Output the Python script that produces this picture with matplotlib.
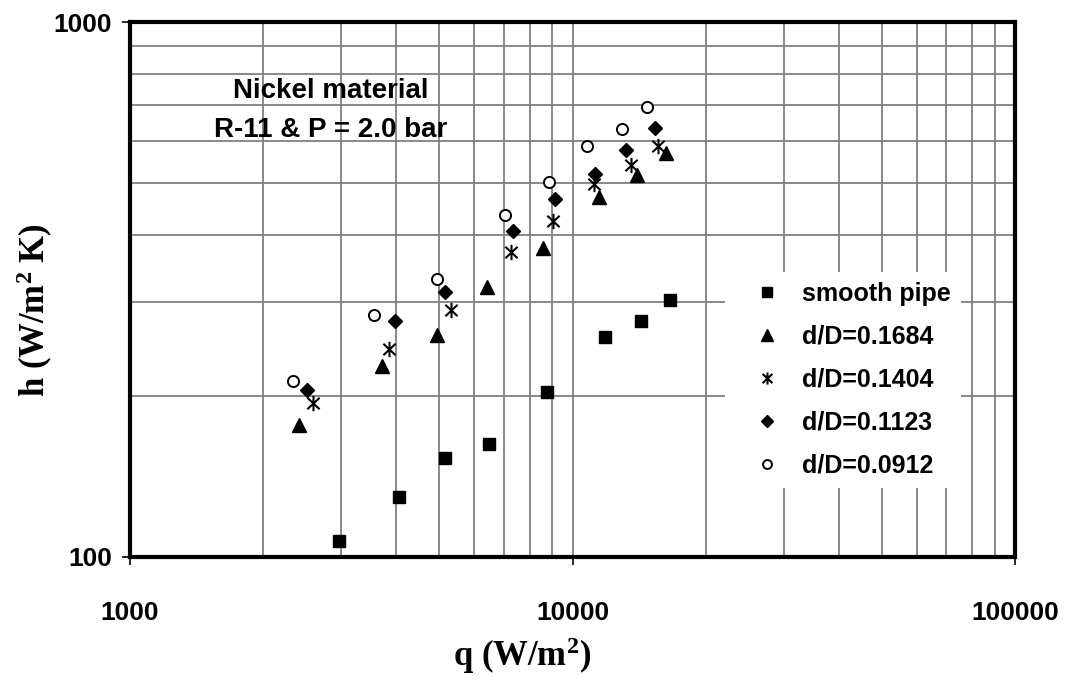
import matplotlib as mpl

mpl.use("Agg")
import matplotlib.pyplot as plt
from matplotlib.path import Path
from matplotlib.ticker import FixedLocator, LogLocator, NullFormatter

# Heat flux q (W/m2) and heat transfer coefficient h (W/m2 K)
q_smooth = [2972, 4054, 5151, 6486, 8759, 11823, 14282, 16610]
h_smooth = [107.3, 129.7, 153, 162.4, 203, 258, 276, 302]

q_1684 = [2413, 3711, 4950, 6418, 8590, 11460, 14012, 16269]
h_1684 = [176.5, 228, 260, 320, 378, 470, 517, 568]

q_1404 = [2588, 3855, 5305, 7249, 9021, 11183, 13533, 15631]
h_1404 = [194, 245, 290, 372, 425, 498, 540, 587]

q_1123 = [2507, 3977, 5151, 7326, 9115, 11260, 13206, 15365]
h_1123 = [205, 276.5, 313, 407, 466, 520, 577, 633]

q_0912 = [2331, 3558, 4950, 7027, 8835, 10802, 12937, 14715]
h_0912 = [213.5, 283, 331, 435, 502, 587, 632, 694]

x_ticks = [1000, 10000, 100000]
y_ticks = [100, 1000]

SANS = "Liberation Sans"
SERIF = "Liberation Serif"

# superscripts in the axis titles come from mathtext, so point it at bold Times-like glyphs
plt.rcParams["mathtext.fontset"] = "custom"
plt.rcParams["mathtext.rm"] = "Liberation Serif:bold"
plt.rcParams["mathtext.bf"] = "Liberation Serif:bold"
plt.rcParams["mathtext.it"] = "Liberation Serif:bold"

# asterisk-like marker: vertical bar plus an X
star = Path(
    [(0, -1), (0, 1), (-0.8, -0.75), (0.8, 0.75), (-0.8, 0.75), (0.8, -0.75)],
    [Path.MOVETO, Path.LINETO, Path.MOVETO, Path.LINETO, Path.MOVETO, Path.LINETO],
)

fig = plt.figure(figsize=(10.65, 6.82), dpi=100)
ax = fig.add_axes([130 / 1065, 125 / 682, 885 / 1065, 535 / 682])

ax.set_xscale("log")
ax.set_yscale("log")
ax.set_xlim(1000, 100000)
ax.set_ylim(100, 1000)

ax.plot(q_smooth, h_smooth, ls="none", marker="s", ms=9, color="black", label="smooth pipe", zorder=3)
ax.plot(q_1684, h_1684, ls="none", marker="^", ms=10, color="black", label="d/D=0.1684", zorder=3)
ax.plot(q_1404, h_1404, ls="none", marker=star, ms=11, mew=1.5, mfc="none", mec="black",
        label="d/D=0.1404", zorder=3)
ax.plot(q_1123, h_1123, ls="none", marker="D", ms=7.5, color="black", label="d/D=0.1123", zorder=3)
ax.plot(q_0912, h_0912, ls="none", marker="o", ms=8, mfc="white", mec="black", mew=1.4,
        label="d/D=0.0912", zorder=3)

ax.xaxis.set_major_locator(FixedLocator(x_ticks))
ax.yaxis.set_major_locator(FixedLocator(y_ticks))
ax.xaxis.set_minor_locator(LogLocator(base=10, subs=range(2, 10)))
ax.yaxis.set_minor_locator(LogLocator(base=10, subs=range(2, 10)))
ax.xaxis.set_minor_formatter(NullFormatter())
ax.yaxis.set_minor_formatter(NullFormatter())
ax.set_xticklabels([str(v) for v in x_ticks])
ax.set_yticklabels([str(v) for v in y_ticks])

ax.grid(True, which="both", color="#808080", lw=1.3)
ax.set_axisbelow(True)
ax.tick_params(which="major", direction="out", length=6, width=1.2, color="black")
ax.tick_params(which="minor", length=0)
ax.tick_params(axis="x", pad=26)
ax.tick_params(axis="y", pad=7)
for lbl in ax.get_xticklabels() + ax.get_yticklabels():
    lbl.set_fontfamily(SANS)
    lbl.set_fontweight("bold")
    lbl.set_fontsize(19)

for sp in ax.spines.values():
    sp.set_linewidth(3)
    sp.set_color("black")

ax.set_xlabel(r"q (W/m$^{2}$)", fontfamily=SERIF, fontweight="bold", fontsize=25)
ax.set_ylabel(r"h (W/m$^{2}$ K)", fontfamily=SERIF, fontweight="bold", fontsize=25)
ax.xaxis.label.set_va("center")
ax.yaxis.label.set_va("center")
ax.xaxis.set_label_coords(0.443, -0.185)
ax.yaxis.set_label_coords(-0.107, 0.462)

ax.text(0.227, 0.835, "Nickel material\nR-11 & P = 2.0 bar", transform=ax.transAxes,
        ha="center", va="center", fontfamily=SANS, fontweight="bold", fontsize=20,
        linespacing=1.65)

leg = ax.legend(loc="upper left", bbox_to_anchor=(0.672, 0.533), borderaxespad=0,
                frameon=True, fancybox=False, edgecolor="none", facecolor="white", framealpha=1,
                prop={"family": SANS, "weight": "bold", "size": 18}, markerscale=0.8,
                handlelength=2.6, handletextpad=0.1, labelspacing=0.76, borderpad=0.4)

fig.savefig("out.png", dpi=100)
